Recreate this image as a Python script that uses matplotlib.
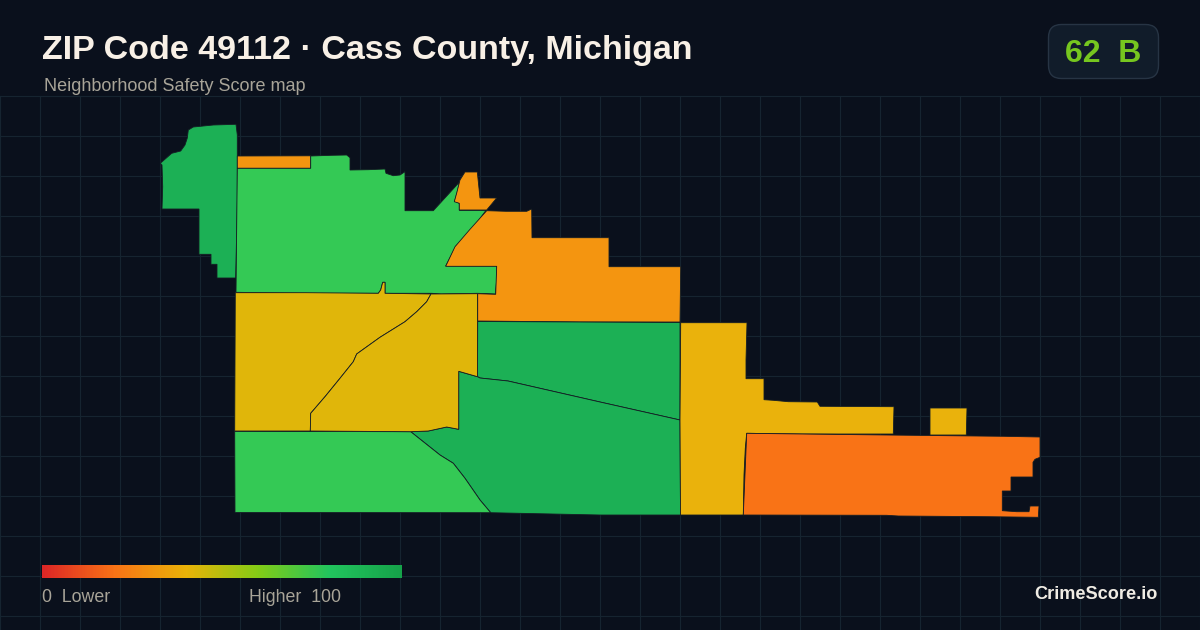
import numpy as np
import matplotlib
matplotlib.use("Agg")
import matplotlib.pyplot as plt
from matplotlib.patches import Polygon, FancyBboxPatch
from matplotlib.colors import LinearSegmentedColormap

plt.rcParams['font.family'] = ['Liberation Sans', 'DejaVu Sans']

# tract outlines (x, y in image pixels)
west_green = [(160.3,163.3),(171.7,153.3),(180.7,151),(185,145),(187.3,138),(188.3,130),(193.3,127),(213.3,125),
              (236,124.3),(237.3,135),(237.3,200),(235.7,278),(217,278),(217,264.3),(211,264.3),(211,254.3),
              (199,254.3),(199,209),(162,209),(162.7,186.7),(162,165)]
north_strip = [(237.3,156),(310.7,155.8),(310.7,168.3),(237.3,168.3)]
north_green = [(237.3,168.3),(310.7,168.3),(310.7,156),(331.7,155.3),(346.7,155),(350,157.7),(350,170),(368.3,169.7),
               (385,169),(386,173.3),(393.3,175.7),(400,175),(405,171.7),(405,210.7),(433.3,210.7),(459.3,182.3),
               (457.3,191.7),(454.7,201),(459.3,203.3),(459.3,210.3),(486,210.3),(471.7,230),(456,246),(445.7,266),
               (496.7,266),(496.7,280),(495.3,294),(477.3,293.3),(441,294),(431.7,293.3),(385,293.3),(385,282.3),
               (382.7,282.3),(380.7,290),(378.3,293.3),(306,293.3),(236,292.3)]
lake_orange = [(465,172),(477.3,172),(480,198),(496.7,198),(486.7,210),(459.3,210),(459.3,203.3),(454.3,201.7),
               (456.7,193),(460,180)]
big_orange = [(486.7,210.7),(506,211.3),(526.7,211.3),(531.7,209),(532,237.7),(609,237.7),(609,266.7),(680.7,266.7),
              (680,322),(579,322),(477.7,321),(477.7,293.7),(495.7,294.3),(496.7,266.3),(445.7,266.3),(455,246.7),
              (470,229.3)]
mid_green = [(477.7,321.5),(579,322),(680,322.5),(680,420),(600,402),(508,381),(480,378),(477.5,376.7)]
south_green = [(458.7,371.3),(477.5,376.7),(480,378),(508,381),(600,402),(680,420),(680.5,515),(600,515),(490.7,512.7),
               (480,500),(465,478.3),(453.3,463.3),(440,455),(410.7,431.7),(428.3,431),(446.7,427),(458.7,429.3)]
southwest_green = [(234.7,431.3),(410.7,431.7),(440,455),(453.3,463.3),(465,478.3),(480,500),(490.7,512.7),(235,512.5)]
west_yellow = [(235.3,292.7),(306,292.7),(378.3,293.3),(380.7,290),(382.7,282.3),(385,282.3),(385,293.3),(431,294),
               (426.7,301.7),(416.7,311.7),(405,321.7),(380,337.3),(356.7,354),(353.3,361.7),(340,378.3),(325,396.7),
               (310.7,413.3),(310.3,431),(234.7,431),(235,361.7)]
center_yellow = [(431,294),(477.5,293.7),(477.5,376.7),(458.7,371.3),(458.7,429.3),(446.7,427),(428.3,431),(410.7,431.7),
                 (310.3,431),(310.7,413.3),(325,396.7),(340,378.3),(353.3,361.7),(356.7,354),(380,337.3),(405,321.7),
                 (416.7,311.7),(426.7,301.7)]
east_yellow = [(680.7,322.7),(747,322.7),(746,360),(746,378.7),(764,378.7),(764,399.7),(773.3,400.3),(788.3,401.7),
               (817.3,402),(820,406.3),(894,406.7),(893.3,434),(801.7,434),(746.7,433.3),(745.3,448.3),(744,475),
               (743.3,515),(680.5,515),(680,420)]
east_block = [(930,408),(967,408),(966.3,435),(930,435)]
east_orange = [(746.7,433.3),(801.7,434),(911.7,435.3),(1003.3,436.3),(1040,437),(1040,457.3),(1035,459.3),(1033,462.3),
               (1033,477),(1011,477),(1011,491),(1002.3,491),(1002.3,510.7),(1016.7,511.7),(1029,511.7),(1030,506),
               (1039,506),(1038.3,517.3),(988.3,516.7),(898.3,516),(886.7,515.3),(743.3,515)]

tracts = [west_green, north_strip, north_green, lake_orange, big_orange, mid_green, south_green, southwest_green,
          west_yellow, center_yellow, east_yellow, east_block, east_orange]
tract_colors = ['#1cb055', '#f49510', '#34c955', '#f49510', '#f49510', '#1cb055', '#1cb055', '#34c955',
                '#e0b60a', '#e0b60a', '#eab20c', '#eab20c', '#f97316']

legend_stops = [0, 0.2, 0.4, 0.6, 0.8, 1]
legend_colors = ['#dc2626', '#f97316', '#eab308', '#84cc16', '#22c55e', '#16a34a']

title = "ZIP Code 49112 · Cass County, Michigan"
subtitle = "Neighborhood Safety Score map"
badge = "62  B"

bg = '#0a101c'
fig = plt.figure(figsize=(12, 6.3), dpi=100, facecolor=bg)
ax = fig.add_axes([0, 0, 1, 1])
ax.set_xlim(0, 1200)
ax.set_ylim(630, 0)
ax.axis('off')

# background grid
for x in range(0, 1201, 40):
    ax.plot([x, x], [96, 630], color='#162430', lw=0.8, zorder=1)
for y in range(96, 630, 40):
    ax.plot([0, 1200], [y, y], color='#162430', lw=0.8, zorder=1)

for shape, col in zip(tracts, tract_colors):
    ax.add_patch(Polygon(shape, closed=True, facecolor=col, edgecolor='#141d24', lw=0.6, zorder=2))

def px(n):
    return n * 72 / 100

ax.text(42, 59, title, color='#f8f0e6', fontsize=px(34), fontweight='bold', va='baseline', zorder=3)
ax.text(44, 91, subtitle, color='#a8a498', fontsize=px(18), va='baseline', zorder=3)

# score badge
ax.add_patch(FancyBboxPatch((1048.5, 24.5), 110, 54, boxstyle="round,pad=0,rounding_size=13",
                            facecolor='#111c2a', edgecolor='#273444', lw=1, zorder=3))
ax.text(1065, 62, badge, color='#76c61f', fontsize=px(32), fontweight='bold', va='baseline', zorder=4)

# colour legend
cmap = LinearSegmentedColormap.from_list('score', list(zip(legend_stops, legend_colors)))
ax.imshow(np.linspace(0, 1, 360).reshape(1, -1), cmap=cmap, extent=(42, 402, 578, 565), aspect='auto', zorder=3)
ax.set_xlim(0, 1200)
ax.set_ylim(630, 0)
ax.text(42, 602, "0  Lower", color='#a8a498', fontsize=px(17.8), va='baseline', zorder=3)
ax.text(249, 602, "Higher  100", color='#a8a498', fontsize=px(17.8), va='baseline', zorder=3)
ax.text(1158, 599, "CrimeScore.io", color='#f0ece4', fontsize=px(18.2), fontweight='bold', ha='right', va='baseline', zorder=3)

fig.savefig('out.png', dpi=100, facecolor=bg)
